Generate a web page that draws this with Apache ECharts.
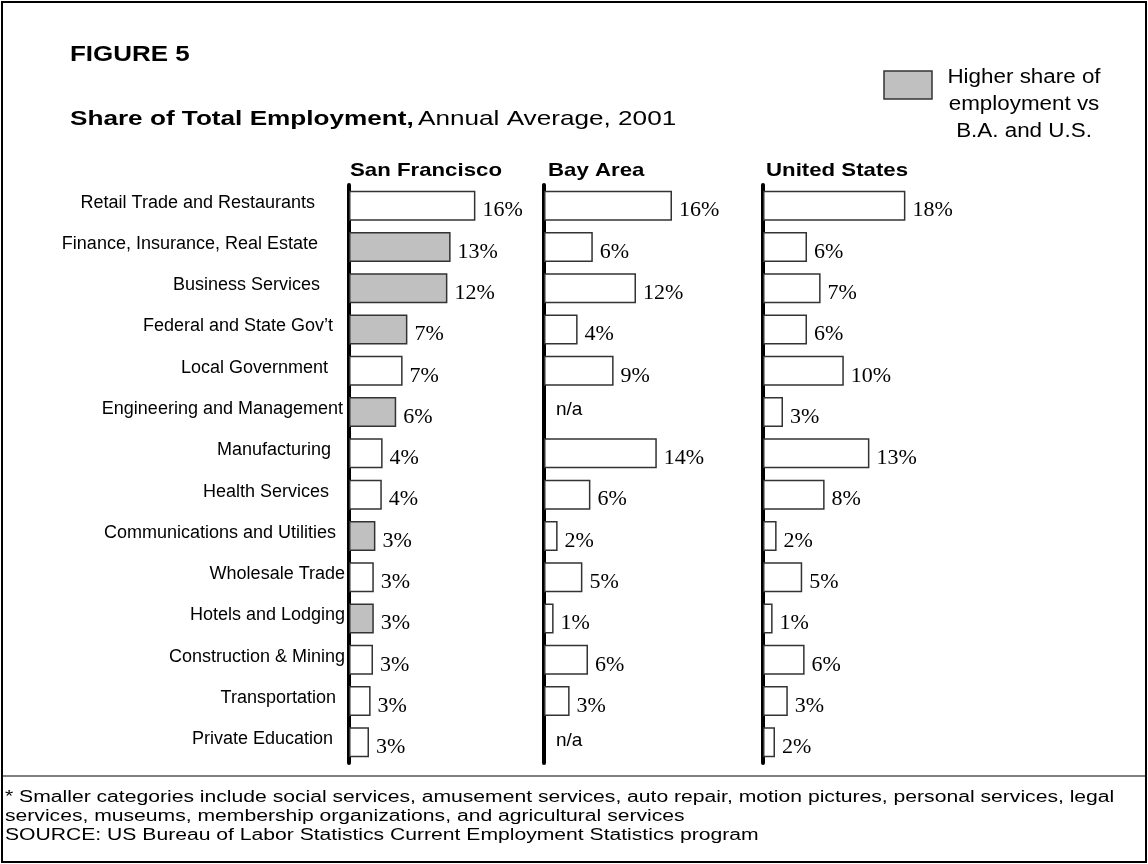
<!DOCTYPE html>
<html>
<head>
<meta charset="utf-8">
<script src="https://cdn.jsdelivr.net/npm/echarts@6/dist/echarts.min.js"></script>
<style>
  html, body { margin: 0; padding: 0; background: #fff; }
  #chart { width: 1148px; height: 864px; }
</style>
</head>
<body>
<div id="chart"></div>
<script>
// industries, top to bottom
const industries = [
  'Retail Trade and Restaurants',
  'Finance, Insurance, Real Estate',
  'Business Services',
  'Federal and State Gov\u2019t',
  'Local Government',
  'Engineering and Management',
  'Manufacturing',
  'Health Services',
  'Communications and Utilities',
  'Wholesale Trade',
  'Hotels and Lodging',
  'Construction & Mining',
  'Transportation',
  'Private Education'
]

// bar lengths (share, %) as drawn
const sfValues = [15.8, 12.7, 12.3, 7.3, 6.7, 5.9, 4.2, 4.1, 3.3, 3.1, 3.1, 3.0, 2.7, 2.5]
const baValues = [16.0, 6.1, 11.5, 4.2, 8.7, null, 14.1, 5.8, 1.7, 4.8, 1.2, 5.5, 3.2, null]
const usValues = [17.8, 5.5, 7.2, 5.5, 10.1, 2.5, 13.3, 7.7, 1.7, 4.9, 1.2, 5.2, 3.1, 1.5]

// printed labels
const sfLabels = ['16%', '13%', '12%', '7%', '7%', '6%', '4%', '4%', '3%', '3%', '3%', '3%', '3%', '3%']
const baLabels = ['16%', '6%', '12%', '4%', '9%', 'n/a', '14%', '6%', '2%', '5%', '1%', '6%', '3%', 'n/a']
const usLabels = ['18%', '6%', '7%', '6%', '10%', '3%', '13%', '8%', '2%', '5%', '1%', '6%', '3%', '2%']

// SF higher share than both B.A. and U.S.
const sfHigher = [false, true, true, true, false, true, false, false, true, false, true, false, false, false]

const panels = ['San Francisco', 'Bay Area', 'United States']

const SANS = 'Liberation Sans, Arial, sans-serif'
const SERIF = 'Liberation Serif, Times New Roman, serif'
const GREY = '#c0c0c0'

// layout: the original labels are not cleanly right aligned
const labelPad = [30, 27, 25, 12, 17, 2, 14, 16, 9, 0, 0, 0, 9, 12]
const gridLefts = [349, 544, 763]
const headerX = [350, 548, 766]

const chart = echarts.init(document.getElementById('chart'))

const buildData = (values, labels, higher) => values.map((v, i) => {
  if (v === null) {
    return {
      value: 0,
      itemStyle: { color: 'rgba(0,0,0,0)', borderWidth: 0 },
      label: {
        formatter: labels[i],
        fontFamily: SANS,
        fontSize: 19,
        distance: 12,
        offset: [0, -2]
      }
    }
  }
  return {
    value: v,
    itemStyle: { color: higher && higher[i] ? GREY : '#fff' }
  }
})

const makeSeries = (idx, values, labels, higher) => ({
  type: 'bar',
  xAxisIndex: idx,
  yAxisIndex: idx,
  barWidth: 30,
  data: buildData(values, labels, higher),
  itemStyle: { borderColor: '#333', borderWidth: 1.5 },
  label: {
    show: true,
    position: 'right',
    distance: 7,
    offset: [0, 5],
    color: '#000',
    fontFamily: SERIF,
    fontSize: 22,
    formatter: p => labels[p.dataIndex]
  },
  animation: false,
  silent: true
})

const catRich = {}
labelPad.forEach((p, i) => {
  catRich['r' + i] = {
    fontFamily: SANS,
    fontSize: 18,
    color: '#000',
    padding: [0, p, 6, 0]
  }
})

const option = {
  backgroundColor: '#fff',
  animation: false,
  grid: gridLefts.map(l => ({ left: l, top: 185, width: 160, height: 578 })),
  xAxis: gridLefts.map((l, i) => ({
    gridIndex: i,
    type: 'value',
    min: 0,
    max: 20,
    show: false
  })),
  yAxis: gridLefts.map((l, i) => ({
    gridIndex: i,
    type: 'category',
    data: industries,
    inverse: true,
    axisLine: { show: true, lineStyle: { color: '#000', width: 4 } },
    axisTick: { show: false },
    axisLabel: {
      show: i === 0,
      margin: 4,
      formatter: (v, k) => '{r' + k + '|' + v + '}',
      rich: catRich
    },
    splitLine: { show: false }
  })),
  series: [
    makeSeries(0, sfValues, sfLabels, sfHigher),
    makeSeries(1, baValues, baLabels, null),
    makeSeries(2, usValues, usLabels, null)
  ],
  graphic: [
    // frame and separator
    { type: 'rect', shape: { x: 2, y: 2, width: 1144, height: 860 }, style: { fill: 'none', stroke: '#000', lineWidth: 2 }, silent: true },
    { type: 'line', shape: { x1: 2, y1: 776, x2: 1146, y2: 776 }, style: { stroke: '#000', lineWidth: 1 }, silent: true },
    // titles (the original type is drawn a little wide)
    { type: 'text', x: 70, y: 55, scaleX: 1.18, style: { text: 'FIGURE 5', font: 'bold 22px ' + SANS, fill: '#000', textVerticalAlign: 'middle' } },
    {
      type: 'text', x: 70, y: 119, scaleX: 1.245,
      style: {
        text: '{b|Share of Total Employment,} {n|Annual Average, 2001}',
        textVerticalAlign: 'middle',
        rich: {
          b: { font: 'bold 21px ' + SANS, fill: '#000' },
          n: { font: '21px ' + SANS, fill: '#000' }
        }
      }
    },
    // panel headers
    ...panels.map((p, i) => ({
      type: 'text', x: headerX[i], y: 161, scaleX: 1.17,
      style: { text: p, font: 'bold 19px ' + SANS, fill: '#000', textVerticalAlign: 'top' }
    })),
    // legend
    { type: 'rect', shape: { x: 884, y: 71, width: 48, height: 28 }, style: { fill: GREY, stroke: '#333', lineWidth: 1.5 }, silent: true },
    {
      type: 'text', x: 1024, y: 64, scaleX: 1.12,
      style: {
        text: 'Higher share of\nemployment vs\nB.A. and U.S.',
        font: '20px ' + SANS, fill: '#000', align: 'center', lineHeight: 27,
        textVerticalAlign: 'top'
      }
    },
    // footnotes
    {
      type: 'text', x: 5, y: 788, scaleX: 1.32,
      style: {
        text: '* Smaller categories include social services, amusement services, auto repair, motion pictures, personal services, legal\nservices, museums, membership organizations, and agricultural services\nSOURCE: US Bureau of Labor Statistics Current Employment Statistics program',
        font: '16px ' + SANS, fill: '#000', lineHeight: 19,
        textVerticalAlign: 'top'
      }
    }
  ]
}

chart.setOption(option)
</script>
</body>
</html>
